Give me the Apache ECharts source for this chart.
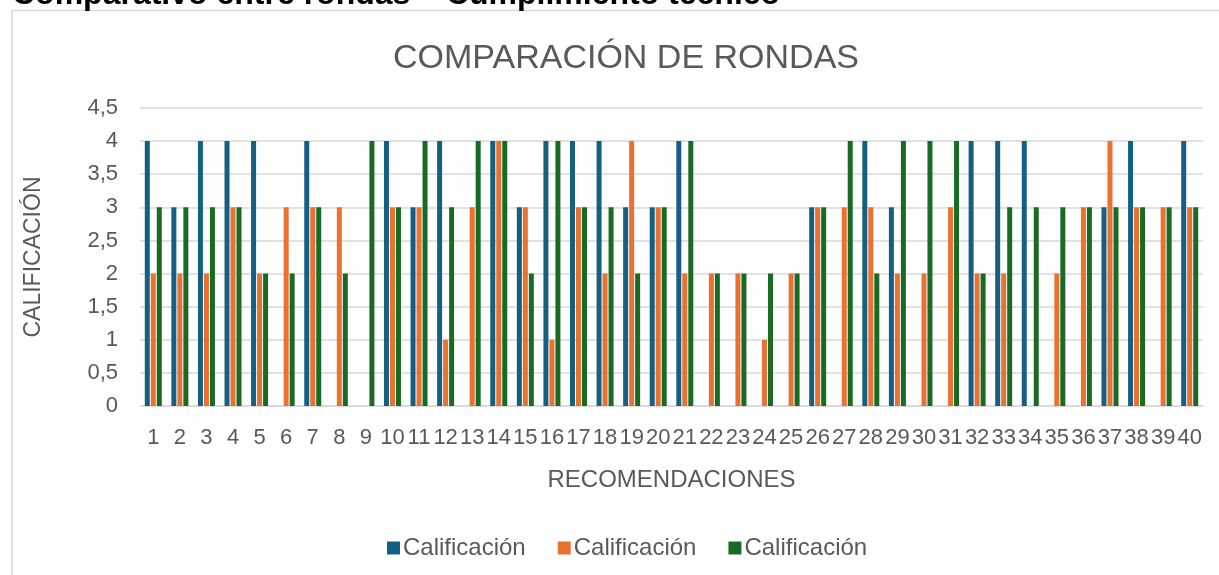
<!DOCTYPE html>
<html>
<head>
<meta charset="utf-8">
<script src="https://cdn.jsdelivr.net/npm/echarts@6/dist/echarts.min.js"></script>
<style>
html,body{margin:0;padding:0;background:#fff;}
#chart{width:1219px;height:575px;}
</style>
</head>
<body>
<div id="chart"></div>
<script>
const categories = ['1','2','3','4','5','6','7','8','9','10','11','12','13','14','15','16','17','18','19','20','21','22','23','24','25','26','27','28','29','30','31','32','33','34','35','36','37','38','39','40'];
const ronda1 = [4,3,4,4,4,0,4,0,0,4,3,4,0,4,3,4,4,4,3,3,4,0,0,0,0,3,0,4,3,0,0,4,4,4,0,0,3,4,0,4];
const ronda2 = [2,2,2,3,2,3,3,3,0,3,3,1,3,4,3,1,3,2,4,3,2,2,2,1,2,3,3,3,2,2,3,2,2,0,2,3,4,3,3,3];
const ronda3 = [3,3,3,3,2,2,3,2,4,3,4,3,4,4,2,4,3,3,2,3,4,2,2,2,2,3,4,2,4,4,4,2,3,3,3,3,3,3,3,3];
const seriesNames = ['Calificación','Calificación','Calificación'];
const colors = ['#156082','#E97132','#196B24'];
const headingText = 'Comparativo entre rondas – Cumplimiento técnico';
const titleText = 'COMPARACIÓN DE RONDAS';
const xName = 'RECOMENDACIONES';
const yName = 'CALIFICACIÓN';

const FONT = '"Liberation Sans", Arial, sans-serif';
const chart = echarts.init(document.getElementById('chart'), null, {renderer:'canvas'});
const values = [ronda1, ronda2, ronda3];
chart.setOption({
  animation:false,
  backgroundColor:'#fff',
  textStyle:{fontFamily:FONT},
  graphic:[
    {type:'rect', shape:{x:12, y:10.5, width:1300, height:700}, style:{fill:'none', stroke:'#d9d9d9', lineWidth:1.5}, z:-1},
    {type:'text', x:12, y:-5, style:{text:headingText, font:'bold 32px ' + FONT, fill:'#000', verticalAlign:'middle'}}
  ],
  title:{text:titleText, left:621, top:37, textAlign:'center',
    textStyle:{fontSize:34, fontWeight:'normal', color:'#595959', fontFamily:FONT}},
  legend:{left:382, top:531, itemWidth:13, itemHeight:13, itemGap:32, icon:'rect',
    textStyle:{fontSize:24, color:'#595959', fontFamily:FONT, padding:[0,0,0,-2]},
    data:[0,1,2].map(i=>({name:'s'+i, itemStyle:{color:colors[i]}})),
    formatter:function(n){return seriesNames[+n.slice(1)];}},
  grid:{left:140, right:16, top:108, bottom:169, containLabel:false},
  xAxis:{type:'category', data:categories, name:xName, nameLocation:'middle', nameGap:62,
    nameTextStyle:{fontSize:24, color:'#595959'},
    axisLine:{lineStyle:{color:'#d9d9d9', width:1.5}}, axisTick:{show:false},
    axisLabel:{interval:0, fontSize:22, color:'#595959', margin:21}},
  yAxis:{type:'value', min:0, max:4.5, interval:0.5, name:yName, nameLocation:'middle', nameGap:95,
    nameTextStyle:{fontSize:23, color:'#595959'},
    axisLine:{show:false}, axisTick:{show:false},
    splitLine:{lineStyle:{color:'#d9d9d9', width:1.5}},
    axisLabel:{fontSize:22, color:'#595959', margin:22, formatter:v=>String(v).replace('.',',')}},
  series:[0,1,2].map(i=>({name:'s'+i, type:'bar', data:values[i], barWidth:5, barGap:'20%',
    itemStyle:{color:colors[i]}}))
});
</script>
</body>
</html>
